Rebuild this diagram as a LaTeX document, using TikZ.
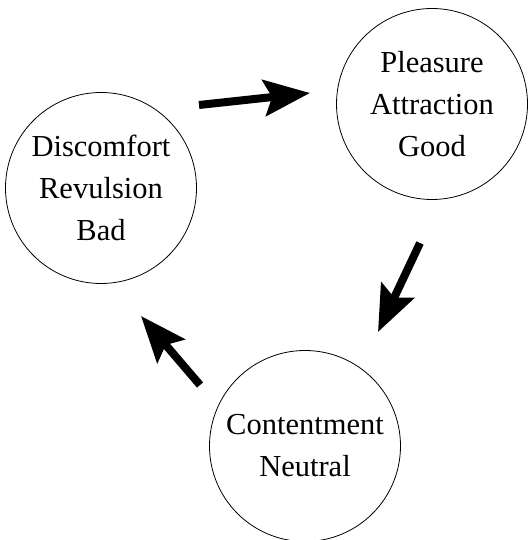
\documentclass[tikz,border=0pt]{standalone}
\usepackage{fontspec}
\setmainfont{Liberation Serif}
\usetikzlibrary{arrows.meta}

\begin{document}
\begin{tikzpicture}[x=1pt, y=1pt,
				MoodNode/.style={circle, draw=black, line width=0.8pt, inner sep=0pt, minimum size=191pt, align=center, font=\fontsize{30.5}{42}\selectfont},
				CycleArrow/.style={line width=8pt, -{Stealth[length=46pt, width=36pt, inset=8pt]}}]

			\useasboundingbox (0,0) rectangle (528,540);

			\node[MoodNode] (Bad) at (101,352) {Discomfort\\Revulsion\\Bad};
			\node[MoodNode] (Good) at (432,436) {Pleasure\\Attraction\\Good};
			\node[MoodNode] (Neutral) at (305,94) {Contentment\\Neutral};

			\coordinate (BadOut) at (199,435);
			\coordinate (GoodIn) at (310,447);
			\draw[CycleArrow] (BadOut) -- (GoodIn);

			\coordinate (GoodOut) at (420,297);
			\coordinate (NeutralIn) at (378,208);
			\draw[CycleArrow] (GoodOut) -- (NeutralIn);

			\coordinate (NeutralOut) at (200,155);
			\coordinate (BadIn) at (141,224);
			\draw[CycleArrow] (NeutralOut) -- (BadIn);
		\end{tikzpicture}
\end{document}
